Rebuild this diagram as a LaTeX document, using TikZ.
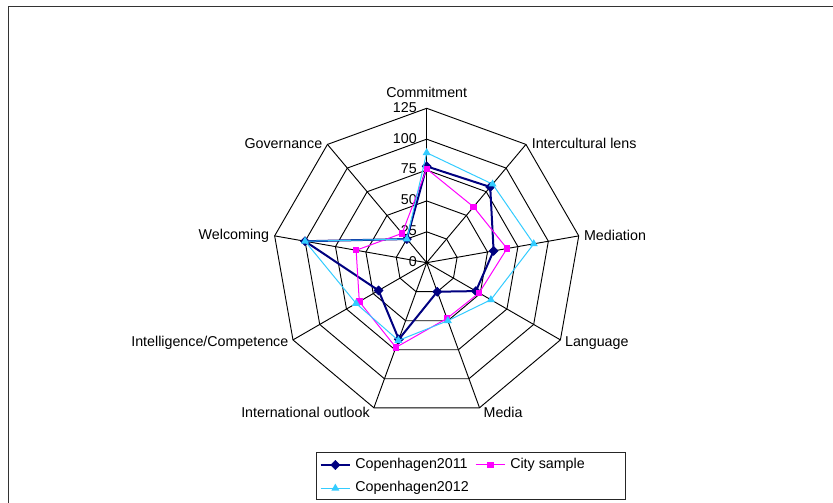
\documentclass[tikz,border=0pt]{standalone}
\usepackage{fontspec}
\setmainfont{Liberation Sans}
\usetikzlibrary{shapes.geometric,positioning,calc}

\definecolor{cphold}{RGB}{0,0,128}
\definecolor{citymag}{RGB}{255,0,255}
\definecolor{cphnew}{RGB}{51,204,255}

\begin{document}
\begin{tikzpicture}[x=0.75pt,y=0.75pt,
        font=\fontsize{10.7}{12.8}\selectfont,
        grid line/.style={black,line width=0.7pt},
        axis label/.style={inner sep=0pt},
        line2011/.style={cphold,line width=1.5pt,line join=round},
        line city/.style={citymag,line width=0.75pt,line join=round},
        line2012/.style={cphnew,line width=0.75pt,line join=round},
        mark2011/.style={diamond,fill=cphold,draw=cphold,inner sep=0pt,minimum width=7pt,minimum height=7pt},
        mark city/.style={rectangle,fill=citymag,inner sep=0pt,minimum size=4.8pt},
        mark2012/.style={regular polygon,regular polygon sides=3,fill=cphnew,inner sep=0pt,minimum size=7pt}]
        \fill[white] (0,0) rectangle (833,503);
        \useasboundingbox (0,0) rectangle (833,503);
        % chart frame (only left and top edges show)
        \draw[black!80,line width=1.1pt] (8.5,0) -- (8.5,496.5) -- (833,496.5);

        \begin{scope}[shift={(426.7,240.3)}]
        % web: rings every 25 and spokes
        \foreach \k in {0,...,8}
            \coordinate (o\k) at ({90-40*\k}:154.4);
        \foreach \r in {25,50,...,125}
            \draw[grid line] (90:{\r*1.2352}) \foreach \k in {1,...,8} { -- ({90-40*\k}:{\r*1.2352}) } -- cycle;
        \foreach \k in {0,...,8}
            \draw[grid line] (0,0) -- (o\k);
        \foreach \v in {0,25,...,125}
            \node[axis label,anchor=east] (tick\v) at (-9.7,{\v*1.2352+1}) {\v};

        % data points
        \foreach \val [count=\k from 0] in {78,80,55,46,25,66,45,100,25}
            \coordinate (a\k) at ({90-40*\k}:{\val*1.2352});
        \foreach \val [count=\k from 0] in {76,59,66,49,48,73,63,58,31}
            \coordinate (b\k) at ({90-40*\k}:{\val*1.2352});
        \foreach \val [count=\k from 0] in {89,83,88,60,50,67,66,100,25}
            \coordinate (c\k) at ({90-40*\k}:{\val*1.2352});

        \draw[line2011] (a0) \foreach \k in {1,...,8} { -- (a\k) } -- cycle;
        \foreach \k in {0,...,8} \node[mark2011] (ma\k) at (a\k) {};
        \draw[line city] (b0) \foreach \k in {1,...,8} { -- (b\k) } -- cycle;
        \foreach \k in {0,...,8} \node[mark city] (mb\k) at (b\k) {};
        \draw[line2012] (c0) \foreach \k in {1,...,8} { -- (c\k) } -- cycle;
        \foreach \k in {0,...,8} \node[mark2012] (mc\k) at (c\k) {};
        \end{scope}

        % category labels
        \node[axis label,anchor=base] (commit) at ([yshift=8.1pt]o0) {Commitment};
        \node[axis label,anchor=west] (lens) at ([xshift=4.2pt,yshift=0.8pt]o1) {Intercultural lens};
        \node[axis label,anchor=west] (mediat) at ([xshift=3.8pt]o2) {Mediation};
        \node[axis label,anchor=west] (lang) at ([xshift=3.3pt,yshift=-2.5pt]o3) {Language};
        \node[axis label,anchor=west] (media) at ([xshift=2.9pt,yshift=-3.6pt]o4) {Media};
        \node[axis label,anchor=east] (intl) at ([xshift=-2.9pt,yshift=-3.6pt]o5) {International outlook};
        \node[axis label,anchor=east] (intel) at ([xshift=-3.3pt,yshift=-2.5pt]o6) {Intelligence/Competence};
        \node[axis label,anchor=east] (welc) at ([xshift=-4pt]o7) {Welcoming};
        \node[axis label,anchor=east] (gov) at ([xshift=-3.7pt,yshift=0.8pt]o8) {Governance};

        % legend
        \draw[black!85,line width=0.75pt] (316,3) rectangle (625,50.3);
        \coordinate (k1a) at (320.7,38);  \coordinate (k1b) at (350,38);
        \coordinate (k2a) at (475.7,38);  \coordinate (k2b) at (505,38);
        \coordinate (k3a) at (320.7,14.7); \coordinate (k3b) at (350,14.7);
        \draw[line2011] (k1a) -- (k1b);
        \node[mark2011] (lk1) at ($(k1a)!0.5!(k1b)$) {};
        \node[axis label,anchor=west] (txt1) at (355,38) {Copenhagen2011};
        \draw[line city] (k2a) -- (k2b);
        \node[mark city] (lk2) at ($(k2a)!0.5!(k2b)$) {};
        \node[axis label,anchor=west] (txt2) at (510,38) {City sample};
        \draw[line2012] (k3a) -- (k3b);
        \node[mark2012] (lk3) at ($(k3a)!0.5!(k3b)$) {};
        \node[axis label,anchor=west] (txt3) at (355,14.7) {Copenhagen2012};
\end{tikzpicture}
\end{document}
